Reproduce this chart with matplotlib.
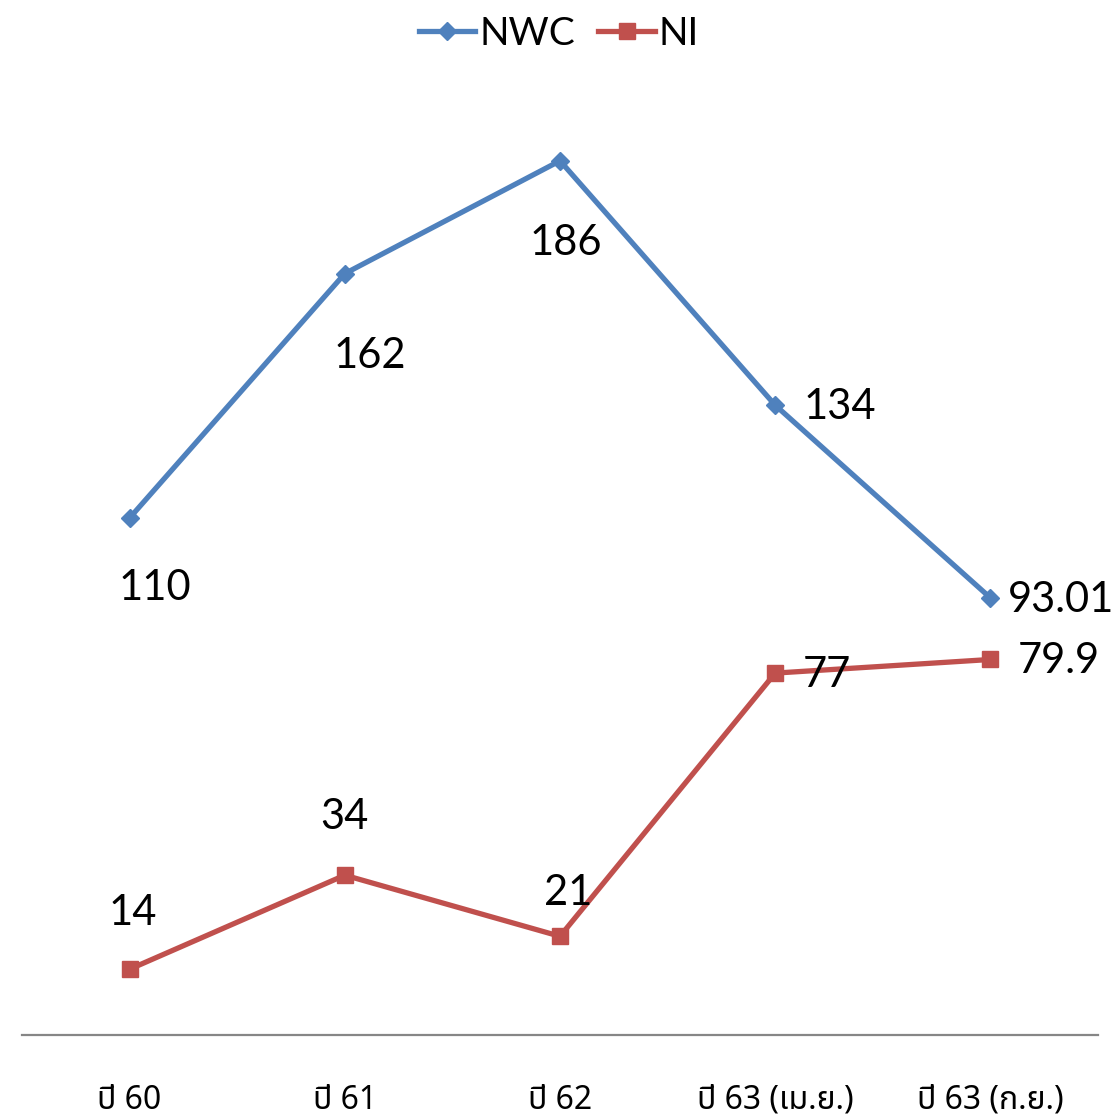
import matplotlib
matplotlib.use('Agg')
import matplotlib.pyplot as plt

# ข้อมูล
categories = ['ปี 60', 'ปี 61', 'ปี 62', 'ปี 63 (เม.ย.)', 'ปี 63 (ก.ย.)']
nwc = [110, 162, 186, 134, 93.01]
ni = [14, 34, 21, 77, 79.9]
nwc_labels = ['110', '162', '186', '134', '93.01']
ni_labels = ['14', '34', '21', '77', '79.9']

blue = '#4F81BD'
red = '#C0504D'
num_font = ['Lato', 'DejaVu Sans']
thai_font = ['Noto Sans Thai', 'Noto Sans Thai Looped', 'Loma', 'Garuda', 'Sarabun',
             'TH Sarabun New', 'Tahoma', 'Waree', 'Umpush', 'Kinnari', 'Norasi',
             'Sawasdee', 'FreeSans', 'Noto Sans', 'DejaVu Sans']

fig = plt.figure(figsize=(11.18, 11.16), dpi=100)
ax = fig.add_axes([22/1118, 81/1116, 1076/1118, 940/1116])

x = list(range(len(categories)))
ax.plot(x, nwc, color=blue, lw=3.8, marker='D', ms=9.5, label='NWC')
ax.plot(x, ni, color=red, lw=3.8, marker='s', ms=12, label='NI')

ax.set_xlim(-0.5, len(categories) - 0.5)
ax.set_ylim(0, 200)

# ตำแหน่งป้ายตัวเลข (pixel offset จากจุด)
nwc_off = [(25, -70, 'center'), (25, -82, 'center'), (6, -82, 'center'), (28, -2, 'left'), (17, -2, 'left')]
ni_off = [(3, 56, 'center'), (0, 58, 'center'), (8, 43, 'center'), (28, -2, 'left'), (27, -2, 'left')]
for xi, v, t, o in zip(x, nwc, nwc_labels, nwc_off):
    ax.annotate(t, (xi, v), xytext=(o[0], o[1]), textcoords='offset pixels',
                ha=o[2], va='center', fontsize=30, family=num_font)
for xi, v, t, o in zip(x, ni, ni_labels, ni_off):
    ax.annotate(t, (xi, v), xytext=(o[0], o[1]), textcoords='offset pixels',
                ha=o[2], va='center', fontsize=30, family=num_font)

for s in ['top', 'right', 'left']:
    ax.spines[s].set_visible(False)
ax.spines['bottom'].set_color('#868686')
ax.spines['bottom'].set_linewidth(1.6)
ax.set_yticks([])
ax.set_xticks(x)
ax.set_xticklabels(categories, family=thai_font, fontsize=23, weight='light')
ax.tick_params(axis='x', length=0, pad=35)

fig.legend(loc='upper center', bbox_to_anchor=(0.5, 1.0), ncol=2, frameon=False,
           prop={'family': num_font, 'size': 28}, handlelength=1.45,
           handletextpad=0.1, columnspacing=0.6, borderaxespad=0.0)

fig.savefig('out.png', dpi=100)
